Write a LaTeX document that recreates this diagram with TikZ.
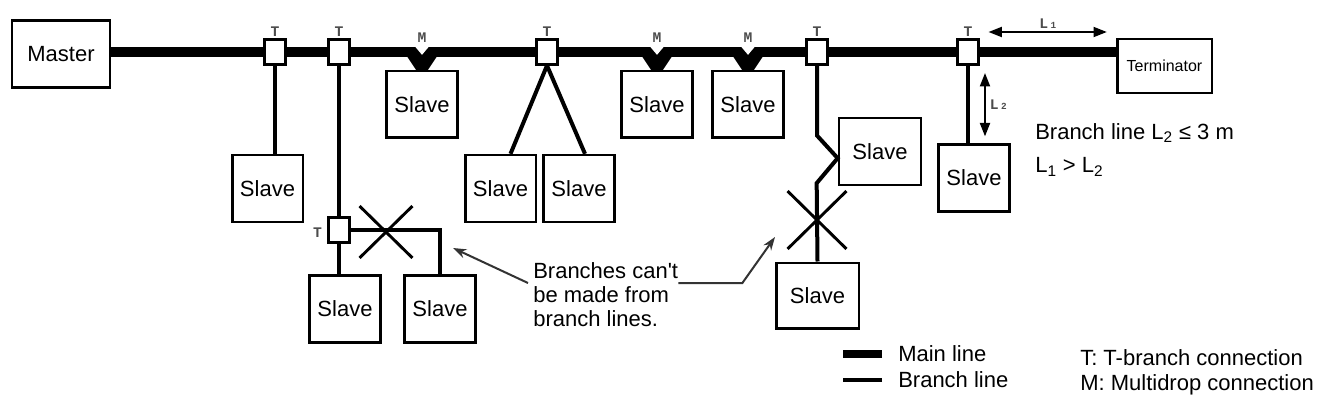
\documentclass[tikz,border=0pt]{standalone}
\usepackage{fontspec}
\setmainfont{Liberation Sans}
\setmonofont{Liberation Mono}
\usetikzlibrary{arrows.meta, positioning, calc, shapes.misc, backgrounds}

\begin{document}
\begin{tikzpicture}[
  x=0.75pt, y=-0.75pt,
  every node/.style={font=\fontsize{16.5}{18}\selectfont},
  unit/.style={rectangle, draw, line width=2pt, fill=white, inner sep=0pt, minimum width=53pt, minimum height=50pt},
  tbox/.style={rectangle, draw, line width=1.8pt, fill=white, inner sep=0pt, minimum width=15.5pt, minimum height=18.5pt, label distance=1.5pt},
  tag/.style={font=\ttfamily\bfseries\fontsize{11}{11}\selectfont, text=black!70, inner sep=1pt},
  mainline/.style={line width=7.5pt},
  branch/.style={line width=3pt},
  xmark/.style={cross out, draw, line width=2.2pt, inner sep=0pt},
  note/.style={align=left, inner sep=0pt},
  pointer/.style={draw=black!80, line width=1.5pt, -{Stealth[length=10pt, width=7pt]}},
  dim/.style={line width=1.4pt, {Triangle[length=10pt, width=7.5pt]}-{Triangle[length=10pt, width=7.5pt]}},
]
  \useasboundingbox (0,0) rectangle (1334,406);

  % Master and terminator
  \node[unit, minimum width=73.5pt] (master) at (61,54) {Master};
  \node[unit, minimum width=71pt, minimum height=40.5pt, font=\fontsize{12}{14}\selectfont] (term) at (1164.5,66) {Terminator};

  % T-branch taps
  \node[tbox, label={[tag]above:T}] (t1) at (275,52) {};
  \node[tbox, label={[tag]above:T}] (t2) at (339,52) {};
  \node[tbox, label={[tag]above:T}] (t3) at (547,52) {};
  \node[tbox, label={[tag]above:T}] (t4) at (817,52) {};
  \node[tbox, label={[tag]above:T}] (t5) at (968,52) {};
  \node[tbox, label={[tag, xshift=-3pt, yshift=-2pt]left:T}] (t6) at (339,230) {};

  % Slaves
  \node[unit] (s1) at (267.5,188.5) {Slave};
  \node[unit] (s2) at (422,104.5) {Slave};
  \node[unit] (s3) at (500.5,188.5) {Slave};
  \node[unit] (s4) at (579,188.5) {Slave};
  \node[unit] (s5) at (657,104.5) {Slave};
  \node[unit] (s6) at (748,104.5) {Slave};
  \node[unit, minimum width=61.5pt] (s7) at (880,151.5) {Slave};
  \node[unit, minimum width=62pt, minimum height=49pt] (s8) at (817.5,295.5) {Slave};
  \node[unit] (s9) at (974,178) {Slave};
  \node[unit] (s10) at (345,309) {Slave};
  \node[unit] (s11) at (440,309) {Slave};

  % Main line
  \begin{scope}[on background layer]
    \draw[mainline] (master.east |- t1) -- (term.west |- t1);
  \end{scope}

  % Multidrop connections
  \foreach \s in {s2, s5, s6} {
    \fill ($(\s.north)+(-16,-15)$) -- ($(\s.north)+(16,-15)$) -- ($(\s.north)+(6,0)$) -- ($(\s.north)+(-6,0)$) -- cycle;
    \fill[white] ($(\s.north)+(-8,-24.5)$) -- ($(\s.north)+(8,-24.5)$) -- ($(\s.north)+(0,-15)$) -- cycle;
    \node[tag] (m-\s) at ($(\s.north)+(0,-32)$) {M};
  }

  % Branch lines
  \draw[branch] (t1.south) -- (t1.south |- s1.north);
  \draw[branch] (t2.south) -- (t6.north);
  \draw[branch] (t6.south) -- (t6.south |- s10.north);
  \draw[branch] (t6.east) -| (s11.north);
  \draw[branch] (t3.south) -- ([xshift=7.5pt]s3.north);
  \draw[branch] (t3.south) -- ([xshift=4.5pt]s4.north);
  \draw[branch] (t4.south) -- ++(0,70) -- ([yshift=-5pt]s7.west) -- ++(-21,25) -- (s8.north);
  \draw[branch] (t5.south) -- (t5.south |- s9.north);

  % Forbidden branches
  \node[xmark, minimum width=37.5pt, minimum height=36.75pt] (x1) at (386,232) {};
  \node[xmark, minimum width=42pt, minimum height=41.25pt] (x2) at (817,220) {};

  % Note and pointers
  \node[note, anchor=north west] (why) at (533,262) {Branches can\textquotesingle t\\be made from\\branch lines.};
  \coordinate (tipA) at (453,248);
  \coordinate (tipB) at (775,237);
  \draw[pointer] ($(why.north west)+(-5,21)$) -- (tipA);
  \draw[pointer] ($(why.north east)+(0,21)$) -- ++(64,0) -- (tipB);

  % Length limits
  \draw[dim] ($(t5.east)+(9,-20)$) -- ($(term.west |- t5.east)+(-9,-20)$)
    node[tag, midway, above=1pt] (l1) {L\,{\fontsize{7}{7}\selectfont 1}};
  \draw[dim] ($(t5.south)+(17,7.5)$) -- ($(t5.south |- s9.north)+(17,-7)$)
    node[tag, midway, right=2pt] (l2) {L\,{\fontsize{7}{7}\selectfont 2}};
  \node[note, anchor=west] (rule1) at (1035,133) {Branch line L\textsubscript{2} ≤ 3 m};
  \node[note, anchor=west] (rule2) at (1035,167) {L\textsubscript{1} > L\textsubscript{2}};

  % Legend
  \node[note, anchor=west] (key1) at (898,354) {Main line};
  \node[note, anchor=west] (key2) at (898,380) {Branch line};
  \draw[line width=6pt] ([xshift=-12pt]key1.west) -- ++(-39,0);
  \draw[branch] ([xshift=-12pt]key2.west) -- ++(-39,0);
  \node[note, anchor=west] (key3) at (1080,358) {T: T-branch connection};
  \node[note, anchor=west] (key4) at (1080,385) {M: Multidrop connection};
\end{tikzpicture}
\end{document}
